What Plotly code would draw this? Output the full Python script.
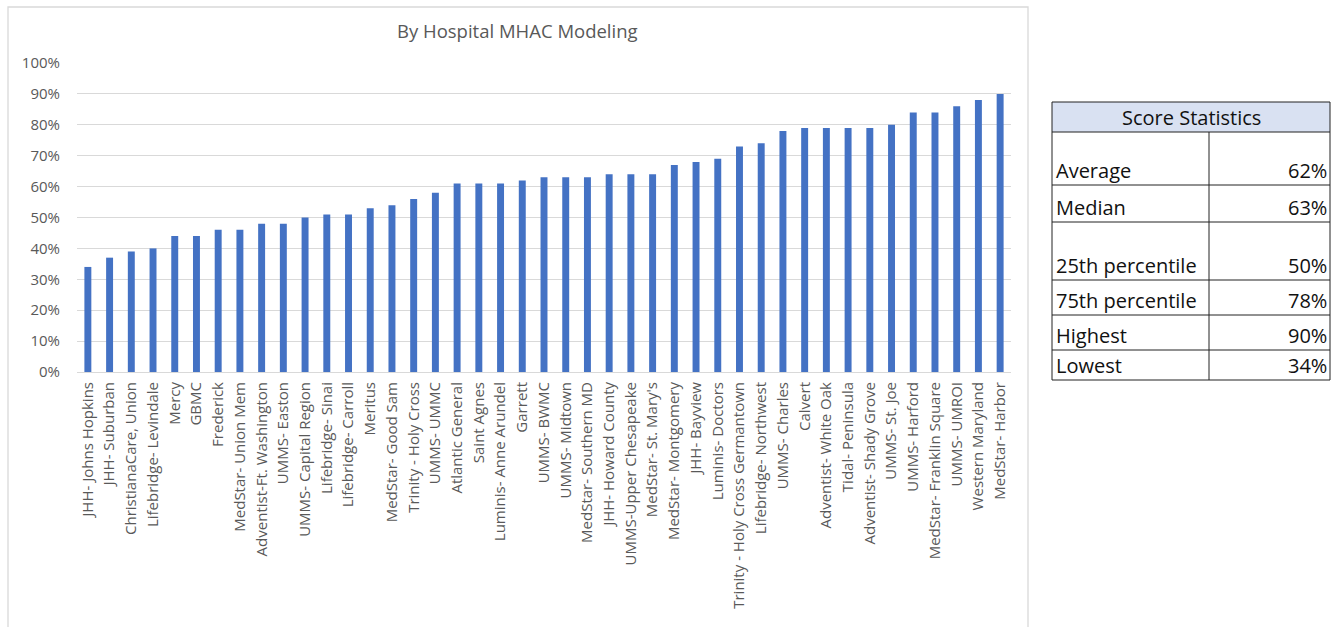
import plotly.graph_objects as go

hospitals = [
    "JHH- Johns Hopkins", "JHH- Suburban", "ChristianaCare, Union", "Lifebridge- Levindale",
    "Mercy", "GBMC", "Frederick", "MedStar- Union Mem", "Adventist-Ft. Washington",
    "UMMS- Easton", "UMMS- Capital Region", "Lifebridge- Sinai", "Lifebridge- Carroll",
    "Meritus", "MedStar- Good Sam", "Trinity - Holy Cross", "UMMS- UMMC", "Atlantic General",
    "Saint Agnes", "Luminis- Anne Arundel", "Garrett", "UMMS- BWMC", "UMMS- Midtown",
    "MedStar- Southern MD", "JHH- Howard County", "UMMS-Upper Chesapeake", "MedStar- St. Mary's",
    "MedStar- Montgomery", "JHH- Bayview", "Luminis- Doctors", "Trinity - Holy Cross Germantown",
    "Lifebridge- Northwest", "UMMS- Charles", "Calvert", "Adventist- White Oak", "Tidal- Peninsula",
    "Adventist- Shady Grove", "UMMS- St. Joe", "UMMS- Harford", "MedStar- Franklin Square",
    "UMMS- UMROI", "Western Maryland", "MedStar- Harbor",
]
scores = [
    0.34, 0.37, 0.39, 0.40, 0.44, 0.44, 0.46, 0.46, 0.48, 0.48, 0.50, 0.51, 0.51, 0.53,
    0.54, 0.56, 0.58, 0.61, 0.61, 0.61, 0.62, 0.63, 0.63, 0.63, 0.64, 0.64, 0.64, 0.67,
    0.68, 0.69, 0.73, 0.74, 0.78, 0.79, 0.79, 0.79, 0.79, 0.80, 0.84, 0.84, 0.86, 0.88, 0.90,
]
y_ticks = [i / 10 for i in range(11)]
y_tick_labels = [f"{i * 10}%" for i in range(11)]

stat_title = "Score Statistics"
stat_names = ["Average", "Median", "25th percentile", "75th percentile", "Highest", "Lowest"]
stat_values = ["62%", "63%", "50%", "78%", "90%", "34%"]

W, H = 1337, 627
L, R, T, B = 77, 1011, 63, 372
FONT = "Open Sans"
GRAY = "#595959"


def px(x):
    return (x - L) / (R - L)


def py(y):
    return (B - y) / (B - T)


fig = go.Figure()
fig.add_trace(go.Bar(
    x=hospitals, y=scores, marker=dict(color="#4472C4", line=dict(width=0)),
    hoverinfo="x+y",
))

shapes = []
annotations = []

# chart border
shapes.append(dict(type="rect", xref="paper", yref="paper",
                   x0=px(8), x1=px(1028), y0=py(640), y1=py(7),
                   line=dict(color="#D9D9D9", width=1.3), fillcolor="rgba(0,0,0,0)", layer="below"))

# table
tx0, tx1, tdiv = 1052, 1330, 1209
row_edges = [102, 132, 185, 222, 280, 315, 350, 380]
shapes.append(dict(type="rect", xref="paper", yref="paper",
                   x0=px(tx0), x1=px(tx1), y0=py(row_edges[1]), y1=py(row_edges[0]),
                   fillcolor="#D9E1F2", line=dict(width=0)))
for ye in row_edges:
    shapes.append(dict(type="line", xref="paper", yref="paper",
                       x0=px(tx0), x1=px(tx1), y0=py(ye), y1=py(ye),
                       line=dict(color="#222222", width=1)))
for xe in (tx0, tx1):
    shapes.append(dict(type="line", xref="paper", yref="paper",
                       x0=px(xe), x1=px(xe), y0=py(row_edges[0]), y1=py(row_edges[-1]),
                       line=dict(color="#222222", width=1)))
shapes.append(dict(type="line", xref="paper", yref="paper",
                   x0=px(tdiv), x1=px(tdiv), y0=py(row_edges[1]), y1=py(row_edges[-1]),
                   line=dict(color="#222222", width=1)))

TFS = 20
annotations.append(dict(xref="paper", yref="paper", x=px((tx0 + tx1) / 2), y=py(117),
                        text=stat_title, showarrow=False, xanchor="center", yanchor="middle",
                        font=dict(family=FONT, size=TFS, color="#111111")))
for i, (name, val) in enumerate(zip(stat_names, stat_values)):
    ybot = row_edges[i + 2]
    annotations.append(dict(xref="paper", yref="paper", x=px(tx0 + 2), y=py(ybot + 1),
                            text=name, showarrow=False, xanchor="left", yanchor="bottom",
                            font=dict(family=FONT, size=TFS, color="#111111")))
    annotations.append(dict(xref="paper", yref="paper", x=px(tx1 - 1), y=py(ybot + 1),
                            text=val, showarrow=False, xanchor="right", yanchor="bottom",
                            font=dict(family=FONT, size=TFS, color="#111111")))

annotations.append(dict(xref="paper", yref="paper", x=px(517), y=py(31),
                        text="By Hospital MHAC Modeling", showarrow=False,
                        xanchor="center", yanchor="middle",
                        font=dict(family=FONT, size=18.5, color=GRAY)))

fig.update_layout(
    width=W, height=H,
    margin=dict(l=L, r=W - R, t=T, b=H - B, pad=0),
    paper_bgcolor="white", plot_bgcolor="white",
    bargap=0.68, showlegend=False,
    shapes=shapes, annotations=annotations,
    font=dict(family=FONT, color=GRAY, size=12),
)
fig.update_xaxes(
    tickangle=-90, tickfont=dict(family=FONT, size=15, color=GRAY),
    showline=True, linecolor="#D9D9D9", linewidth=1, showgrid=False,
    ticks="outside", ticklen=3, tickcolor="rgba(0,0,0,0)",
    automargin=False, fixedrange=True,
)
fig.update_yaxes(
    range=[0, 1], tickvals=y_ticks, ticktext=y_tick_labels,
    tickfont=dict(family=FONT, size=15, color=GRAY),
    showgrid=True, gridcolor="#D9D9D9", gridwidth=1, zeroline=False,
    showline=False, ticks="outside", ticklen=13, tickcolor="rgba(0,0,0,0)",
    automargin=False, fixedrange=True,
)

fig.write_html(
    "out.html",
    config={"displayModeBar": False},
    post_script="document.body.style.margin='0';document.body.style.overflow='hidden';",
)
